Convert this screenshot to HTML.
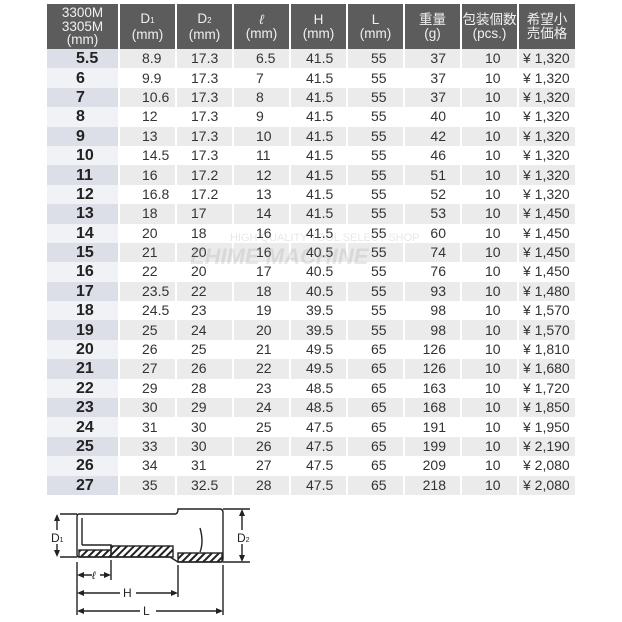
<!DOCTYPE html>
<html><head><meta charset="utf-8"><style>
body{margin:0;width:622px;height:622px;background:#fff;position:relative;overflow:hidden;font-family:"Liberation Sans","Noto Sans CJK JP",sans-serif}
table{position:absolute;left:47px;top:4px;border-collapse:collapse;table-layout:fixed}
th{background:#5c5c5c;color:#f0f0f0;font-weight:normal;font-size:13.5px;line-height:13.5px;height:45px;padding:0;border-left:2px solid #fff;text-align:center}
th:first-child{border-left:none}
td{height:19.4px;padding:0;font-size:14px;color:#333;border-left:2px solid #fff;line-height:19px;white-space:nowrap}
td:first-child{border-left:none;font-size:16px;font-weight:bold;color:#222;padding-left:29px}
tr.g td{background:#ebebeb}
tr.g td:first-child{background:#dcdfe7}
tr.w td:first-child{background:#f1f2f6}
td:nth-child(2){padding-left:22px}
td:nth-child(3){padding-left:14px}
td:nth-child(4){padding-left:22px}
td:nth-child(5){padding-left:15px}
td:nth-child(6){padding-left:23px}
td:nth-child(7){text-align:right;padding-right:14px}
td:nth-child(8){padding-left:23px}
td:nth-child(9){padding-left:4px}
.wm{position:absolute;color:rgba(150,150,150,0.22);font-weight:bold;font-style:italic}
</style></head><body>
<table>
<colgroup><col style="width:72px"><col style="width:57px"><col style="width:57px"><col style="width:57px"><col style="width:57px"><col style="width:57px"><col style="width:57px"><col style="width:57px"><col style="width:57px"></colgroup>
<tr><th>3300M<br>3305M<br>(mm)</th><th>D<sub style="font-size:8px;vertical-align:baseline">1</sub><br>(mm)</th><th>D<sub style="font-size:8px;vertical-align:baseline">2</sub><br>(mm)</th><th><i>ℓ</i><br>(mm)</th><th>H<br>(mm)</th><th>L<br>(mm)</th><th>重量<br>(g)</th><th>包装個数<br>(pcs.)</th><th>希望小<br>売価格</th></tr>
<tr class="g"><td>5.5</td><td>8.9</td><td>17.3</td><td>6.5</td><td>41.5</td><td>55</td><td>37</td><td>10</td><td>¥ 1,320</td></tr>
<tr class="w"><td>6</td><td>9.9</td><td>17.3</td><td>7</td><td>41.5</td><td>55</td><td>37</td><td>10</td><td>¥ 1,320</td></tr>
<tr class="g"><td>7</td><td>10.6</td><td>17.3</td><td>8</td><td>41.5</td><td>55</td><td>37</td><td>10</td><td>¥ 1,320</td></tr>
<tr class="w"><td>8</td><td>12</td><td>17.3</td><td>9</td><td>41.5</td><td>55</td><td>40</td><td>10</td><td>¥ 1,320</td></tr>
<tr class="g"><td>9</td><td>13</td><td>17.3</td><td>10</td><td>41.5</td><td>55</td><td>42</td><td>10</td><td>¥ 1,320</td></tr>
<tr class="w"><td>10</td><td>14.5</td><td>17.3</td><td>11</td><td>41.5</td><td>55</td><td>46</td><td>10</td><td>¥ 1,320</td></tr>
<tr class="g"><td>11</td><td>16</td><td>17.2</td><td>12</td><td>41.5</td><td>55</td><td>51</td><td>10</td><td>¥ 1,320</td></tr>
<tr class="w"><td>12</td><td>16.8</td><td>17.2</td><td>13</td><td>41.5</td><td>55</td><td>52</td><td>10</td><td>¥ 1,320</td></tr>
<tr class="g"><td>13</td><td>18</td><td>17</td><td>14</td><td>41.5</td><td>55</td><td>53</td><td>10</td><td>¥ 1,450</td></tr>
<tr class="w"><td>14</td><td>20</td><td>18</td><td>16</td><td>41.5</td><td>55</td><td>60</td><td>10</td><td>¥ 1,450</td></tr>
<tr class="g"><td>15</td><td>21</td><td>20</td><td>16</td><td>40.5</td><td>55</td><td>74</td><td>10</td><td>¥ 1,450</td></tr>
<tr class="w"><td>16</td><td>22</td><td>20</td><td>17</td><td>40.5</td><td>55</td><td>76</td><td>10</td><td>¥ 1,450</td></tr>
<tr class="g"><td>17</td><td>23.5</td><td>22</td><td>18</td><td>40.5</td><td>55</td><td>93</td><td>10</td><td>¥ 1,480</td></tr>
<tr class="w"><td>18</td><td>24.5</td><td>23</td><td>19</td><td>39.5</td><td>55</td><td>98</td><td>10</td><td>¥ 1,570</td></tr>
<tr class="g"><td>19</td><td>25</td><td>24</td><td>20</td><td>39.5</td><td>55</td><td>98</td><td>10</td><td>¥ 1,570</td></tr>
<tr class="w"><td>20</td><td>26</td><td>25</td><td>21</td><td>49.5</td><td>65</td><td>126</td><td>10</td><td>¥ 1,810</td></tr>
<tr class="g"><td>21</td><td>27</td><td>26</td><td>22</td><td>49.5</td><td>65</td><td>126</td><td>10</td><td>¥ 1,680</td></tr>
<tr class="w"><td>22</td><td>29</td><td>28</td><td>23</td><td>48.5</td><td>65</td><td>163</td><td>10</td><td>¥ 1,720</td></tr>
<tr class="g"><td>23</td><td>30</td><td>29</td><td>24</td><td>48.5</td><td>65</td><td>168</td><td>10</td><td>¥ 1,850</td></tr>
<tr class="w"><td>24</td><td>31</td><td>30</td><td>25</td><td>47.5</td><td>65</td><td>191</td><td>10</td><td>¥ 1,950</td></tr>
<tr class="g"><td>25</td><td>33</td><td>30</td><td>26</td><td>47.5</td><td>65</td><td>199</td><td>10</td><td>¥ 2,190</td></tr>
<tr class="w"><td>26</td><td>34</td><td>31</td><td>27</td><td>47.5</td><td>65</td><td>209</td><td>10</td><td>¥ 2,080</td></tr>
<tr class="g"><td>27</td><td>35</td><td>32.5</td><td>28</td><td>47.5</td><td>65</td><td>218</td><td>10</td><td>¥ 2,080</td></tr>
</table>
<div class="wm" style="left:230px;top:232px;font-size:11px;font-style:normal;font-weight:normal">HIGH QUALITY TOOL SELECT SHOP</div>
<div class="wm" style="left:190px;top:244px;font-size:22px">EHIME MACHINE</div>
<svg width="622" height="622" style="position:absolute;left:0;top:0">
<defs><pattern id="h" width="5" height="5" patternUnits="userSpaceOnUse" patternTransform="rotate(45)"><rect width="2" height="5" fill="#222"/></pattern></defs>
<g stroke="#222" fill="none" stroke-width="1.4">
<path d="M79 514 H175 Q178 514 178 509 H220 Q223 509 223 513 V559 Q223 562 220 562 H178 L170 557 H79 Q77 557 77 554 V517 Q77 514 79 514Z" fill="#fff"/>
<rect x="111" y="546" width="62" height="11" fill="url(#h)"/>
<rect x="79" y="550" width="32" height="7" fill="url(#h)"/>
<rect x="178" y="553" width="44" height="9" fill="url(#h)"/>
<path d="M82 518 V545 M82 545 H111 V550"/>
<path d="M200 528 q4 14 0 24"/>
<path d="M60 514 H77 M60 557 H77 M223 509 H250 M223 562 H250"/>
<path d="M57 516 V555 M242 511 V560"/>
<path d="M77 562 V615 M111 560 V580 M178 565 V597 M223 565 V615"/>
<path d="M79 575 H92 M100 575 H109 M79 593 H120 M136 593 H176 M79 611 H140 M156 611 H221"/>
</g>
<g fill="#222">
<path d="M57 514 l-3 7 h6z M57 557 l-3 -7 h6z M242 509 l-3 7 h6z M242 562 l-3 -7 h6z"/>
<path d="M77 575 l7 -3 v6z M111 575 l-7 -3 v6z M77 593 l7 -3 v6z M178 593 l-7 -3 v6z M77 611 l7 -3 v6z M223 611 l-7 -3 v6z"/>
</g>
<rect x="50" y="530" width="14" height="14" fill="#fff"/>
<rect x="235" y="530" width="16" height="14" fill="#fff"/>
<g font-family="Liberation Sans" font-size="12" fill="#222">
<text x="51" y="542">D<tspan font-size="7">1</tspan></text>
<text x="237" y="542">D<tspan font-size="7">2</tspan></text>
<text x="92" y="579" font-style="italic" font-size="11">ℓ</text>
<text x="123" y="597">H</text>
<text x="143" y="615">L</text>
</g>
</svg>
</body></html>
